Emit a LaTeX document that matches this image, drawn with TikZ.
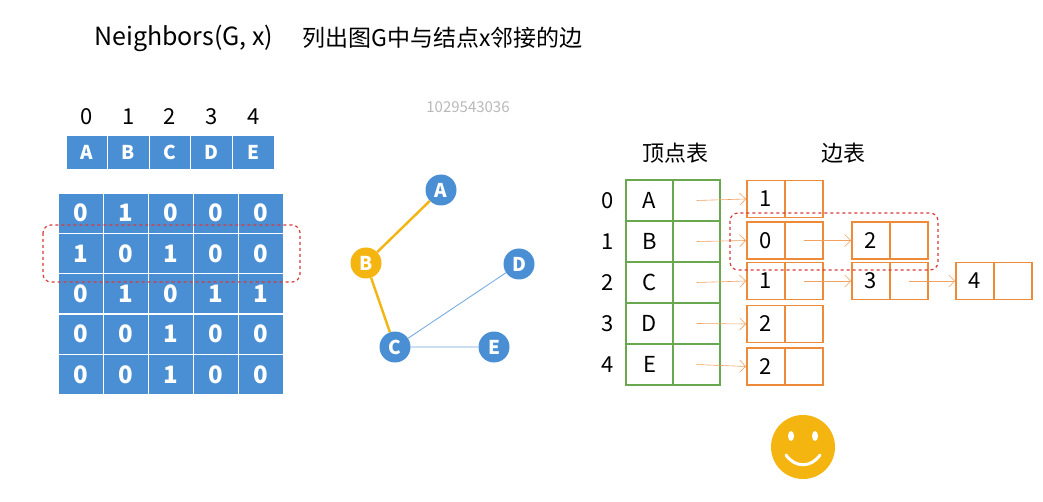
\documentclass[tikz,border=0pt]{standalone}
\usepackage{fontspec}
\setmainfont{Noto Sans CJK SC}
\usetikzlibrary{arrows.meta}
\definecolor{mblue}{HTML}{4A8FD4}
\definecolor{gborder}{HTML}{6AA84F}
\definecolor{oborder}{HTML}{EE8B3A}
\definecolor{gold}{HTML}{F5B510}
\definecolor{dred}{HTML}{D93A3A}
\tikzset{
  cellb/.style={draw=white,line width=0.8pt,fill=mblue,text=white,font=\bfseries\fontsize{24}{24}\selectfont,minimum width=45pt,minimum height=40pt,inner sep=0},
  hcell/.style={cellb,minimum width=41.6pt,minimum height=34pt,font=\bfseries\fontsize{19}{19}\selectfont},
  vnode/.style={circle,fill=mblue,text=white,minimum size=31pt,inner sep=0,font=\bfseries\fontsize{19}{19}\selectfont},
  gcell/.style={draw=gborder,line width=1.8pt,minimum width=47pt,minimum height=41pt,inner sep=0,font=\fontsize{22}{22}\selectfont},
  ocell/.style={draw=oborder,line width=1.8pt,minimum width=38pt,minimum height=37pt,inner sep=0,font=\fontsize{22}{22}\selectfont},
  parr/.style={draw=oborder!80,line width=0.6pt,-{Straight Barb[length=6pt]}},
  hl/.style={draw=dred,dashed,line width=1.2pt,rounded corners=8pt},
  lbl/.style={font=\fontsize{22}{22}\selectfont,inner sep=0}
}
\begin{document}
\begin{tikzpicture}[x=1pt,y=-1pt]
\useasboundingbox[fill=white] (0,0) rectangle (1043,502);
\node[anchor=west,inner sep=0,font=\fontsize{25}{25}\selectfont] (t1) at (94,38) {Neighbors(G, x)};
\node[anchor=west,inner sep=0,font=\fontsize{23}{23}\selectfont] (t2) at (302,38) {列出图G中与结点x邻接的边};
\node[text=gray!55,font=\fontsize{15}{15}\selectfont] (wm) at (468,107) {1029543036};
% header
\foreach \l [count=\i from 0] in {A,B,C,D,E}{
  \node[lbl] (n\i) at (86.8+41.6*\i,117) {\i};
  \node[hcell] (h\i) at (86.8+41.6*\i,152) {\l};
}
% matrix
\foreach \row [count=\r from 0] in {{0,1,0,0,0},{1,0,1,0,0},{0,1,0,1,1},{0,0,1,0,0},{0,0,1,0,0}}{
  \foreach \v [count=\c from 0] in \row {
    \node[cellb] (m\r\c) at (80.5+45*\c,213+40.4*\r) {\v};
  }
}
\draw[hl] (43,225) rectangle (300,282);
% graph
\node[vnode] (A) at (441,190) {A};
\node[vnode,fill=gold] (B) at (366,263) {B};
\node[vnode] (C) at (395,347) {C};
\node[vnode] (D) at (519,264) {D};
\node[vnode] (E) at (494,347) {E};
\draw[gold,line width=2.4pt] (A) -- (B) -- (C);
\draw[mblue!80,line width=0.8pt] (C) -- (D) (C) -- (E);
% adjacency list
\node[font=\fontsize{22}{22}\selectfont] (vt) at (675,153) {顶点表};
\node[font=\fontsize{22}{22}\selectfont] (et) at (843,153) {边表};
\foreach \l [count=\i from 0] in {A,B,C,D,E}{
  \node[lbl] (k\i) at (608,200.5+41*\i) {\i};
  \node[gcell] (g\i) at (649.5,200.5+41*\i) {\l};
  \node[gcell] (p\i) at (696.5,200.5+41*\i) {};
}
\foreach \v/\y [count=\i from 0] in {1/199,0/240.5,1/281,2/324,2/366.5}{
  \node[ocell] (a\i) at (766,\y) {\v};
  \node[ocell] (b\i) at (804,\y) {};
  \draw[parr] (p\i.center) -- (a\i.west);
}
\node[ocell] (c1) at (871,240.5) {2};
\node[ocell] (d1) at (909,240.5) {};
\node[ocell] (c2) at (871,281) {3};
\node[ocell] (d2) at (909,281) {};
\node[ocell] (e2) at (975,281) {4};
\node[ocell] (f2) at (1013,281) {};
\draw[parr] (b1.center) -- (c1.west);
\draw[parr] (b2.center) -- (c2.west);
\draw[parr] (d2.center) -- (e2.west);
\draw[hl] (730,213) rectangle (938,270);
% smiley
\node[circle,fill=gold,minimum size=64pt,inner sep=0] (sm) at (803,447) {};
\fill[white] (791,436) ellipse (3pt and 5pt) (815,436) ellipse (3pt and 5pt);
\draw[white,line width=3pt,line cap=round] (786,455) .. controls (795,468) and (811,468) .. (820,455);
\end{tikzpicture}
\end{document}
